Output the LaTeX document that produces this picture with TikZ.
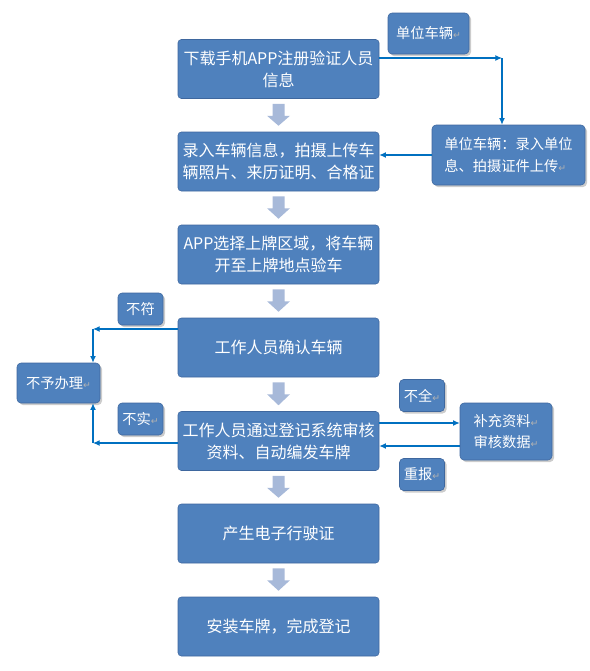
\documentclass[tikz,border=0pt]{standalone}
\usepackage{fontspec}
\usepackage{tikz}
\usetikzlibrary{arrows.meta,calc,shadows}
\newfontfamily\cjk{Noto Sans CJK SC}
\newfontfamily\symfont{DejaVu Sans}
\definecolor{boxblue}{RGB}{79,129,189}
\definecolor{boxedge}{RGB}{62,103,158}
\definecolor{linkblue}{RGB}{0,112,192}
\definecolor{hollow}{RGB}{167,185,217}
\newcommand{\retmk}{{\symfont\color{gray!60}\fontsize{7}{7}\selectfont ↵}}

\begin{document}
\begin{tikzpicture}[x=0.75pt,y=-0.75pt,>={Latex[length=5pt,width=4.5pt]},
  st/.style={draw=boxedge,fill=boxblue,text=white,rounded corners=2.5pt,
    minimum width=150.75pt,minimum height=44.25pt,inner sep=0pt,align=center,
    font=\cjk\fontsize{12}{16.5}\selectfont},
  sm/.style={draw=boxedge,fill=boxblue,text=white,rounded corners=3pt,
    inner sep=0pt,align=center,font=\cjk\fontsize{10.7}{16}\selectfont,
    drop shadow={shadow xshift=1.5pt,shadow yshift=-1.5pt,fill=black!40,opacity=.5}},
  ln/.style={draw=linkblue,line width=0.9pt}]
  \useasboundingbox (0,0) rectangle (589,671);
  % main column
  \node[st] (b1) at (278.5,69)    {下载手机APP注册验证人员\\信息};
  \node[st] (b2) at (278.5,161.5) {录入车辆信息，拍摄上传车\\辆照片、来历证明、合格证};
  \node[st] (b3) at (278.5,254.5) {APP选择上牌区域，将车辆\\开至上牌地点验车};
  \node[st] (b4) at (278.5,347.5) {工作人员确认车辆};
  \node[st] (b5) at (278.5,441)   {工作人员通过登记系统审核\\资料、自动编发车牌};
  \node[st] (b6) at (278.5,533.5) {产生电子行驶证};
  \node[st] (b7) at (278.5,626.5) {安装车牌，完成登记};
  \foreach \a/\b in {b1/b2,b2/b3,b3/b4,b4/b5,b5/b6,b6/b7}
    \fill[hollow] ($(\a.south)+(-6,5)$) -- ++(12,0) -- ++(0,12) -- ++(5.5,0)
      -- ($(\b.north)+(0,-6)$) -- ($(\a.south)+(-11.5,17)$) -- ++(5.5,0) -- cycle;
  % side boxes
  \node[sm,minimum width=60.75pt,minimum height=30.75pt] (u1) at (428.5,33.5) {单位车辆\retmk};
  \node[sm,minimum width=114.75pt,minimum height=45pt,align=left] (u2) at (508.5,155)
    {单位车辆：录入单位\\息、拍摄证件上传\retmk};
  \node[sm,minimum width=62.25pt,minimum height=30pt] (n1) at (58.5,383) {不予办理\retmk};
  \node[sm,minimum width=33.75pt,minimum height=24pt] (l1) at (140.5,309) {不符};
  \node[sm,minimum width=33.75pt,minimum height=24pt] (l2) at (140.5,419) {不实\retmk};
  \node[sm,minimum width=33.75pt,minimum height=24pt] (l3) at (422,395.5) {不全\retmk};
  \node[sm,minimum width=33.75pt,minimum height=24pt] (l4) at (422,474.5) {重报\retmk};
  \node[sm,minimum width=69pt,minimum height=42.75pt] (s2) at (506,431.5)
    {补充资料\retmk\\审核数据\retmk};
  % connectors
  \coordinate (c1) at (502,58);
  \coordinate (c2) at (93,329);
  \coordinate (c3) at (93,443);
  \draw[ln,->] (b1.east |- c1) -- (c1);
  \draw[ln,->] (c1) -- (c1 |- u2.north);
  \draw[ln,->] (u2.west) -- (u2.west -| b2.east);
  \draw[ln,->] (b4.west |- c2) -- (c2);
  \draw[ln,->] (c2) -- (c2 |- n1.north);
  \draw[ln,->] (b5.west |- c3) -- (c3);
  \draw[ln,->] (c3) -- (c3 |- n1.south);
  \draw[ln,->] ($(b5.east)+(0,-18)$) -- ($(b5.east -| s2.west)+(0,-18)$);
  \draw[ln,->] ($(s2.west)+(0,14.5)$) -- ($(s2.west -| b5.east)+(0,14.5)$);
\end{tikzpicture}
\end{document}
